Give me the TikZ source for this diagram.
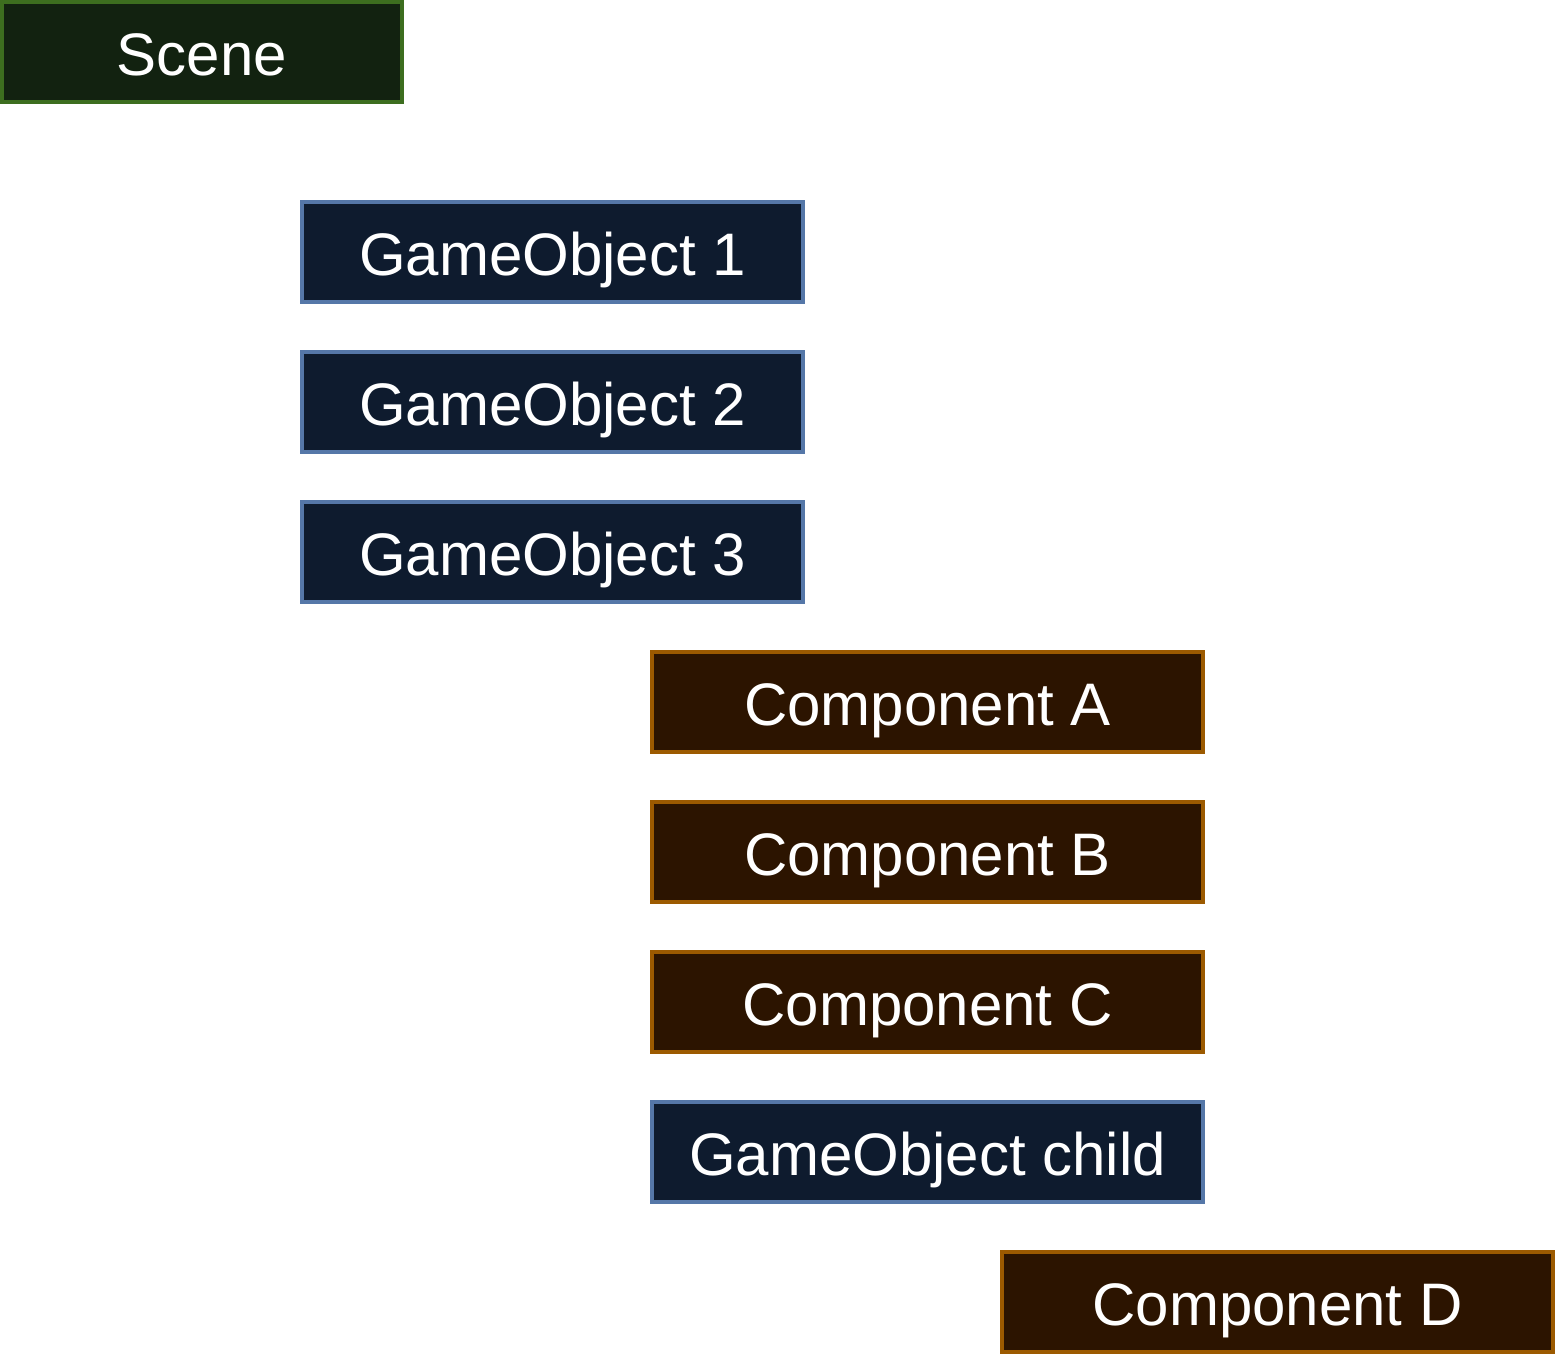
\documentclass[tikz,border=0pt]{standalone}
\usepackage{fontspec}
\setmainfont{Liberation Sans}
\definecolor{scenefill}{HTML}{122210}
\definecolor{sceneline}{HTML}{3D6E1F}
\definecolor{gofill}{HTML}{0E1B2E}
\definecolor{goline}{HTML}{5577A8}
\definecolor{compfill}{HTML}{2C1400}
\definecolor{compline}{HTML}{9C5A00}
\begin{document}
\begin{tikzpicture}[x=0.5pt,y=-0.5pt,
  box/.style={rectangle, inner sep=0pt, outer sep=0pt, line width=2pt,
    minimum height=50pt, text=white, text height=23pt, text depth=0pt,
    font=\fontsize{30pt}{36pt}\selectfont},
  scenebox/.style={box, draw=sceneline, fill=scenefill, minimum width=200pt},
  gobox/.style={box, draw=goline, fill=gofill, minimum width=250.5pt},
  compbox/.style={box, draw=compline, fill=compfill, minimum width=275.5pt},
  link/.style={draw=white, line width=1pt}]
\useasboundingbox (0,0) rectangle (1555,1355);
% hidden (white) tree connectors
\coordinate (sroot) at (202,104);
\coordinate (groot) at (552,604);
\coordinate (croot) at (927,1204);
\draw[link] (sroot) |- (300,252) (sroot) |- (300,402) (sroot) |- (300,552);
\draw[link] (groot) |- (650,702) (groot) |- (650,852) (groot) |- (650,1002) (groot) |- (650,1152);
\draw[link] (croot) |- (1000,1302);
% boxes
\node[scenebox] (scene) at (202,52) {Scene};
\node[gobox] (g1) at (552.5,252) {GameObject 1};
\node[gobox] (g2) at (552.5,402) {GameObject 2};
\node[gobox] (g3) at (552.5,552) {GameObject 3};
\node[compbox] (ca) at (927.5,702) {Component A};
\node[compbox] (cb) at (927.5,852) {Component B};
\node[compbox] (cc) at (927.5,1002) {Component C};
\node[gobox, minimum width=275.5pt] (child) at (927.5,1152) {GameObject child};
\node[compbox] (cd) at (1277.5,1302) {Component D};
\end{tikzpicture}
\end{document}
